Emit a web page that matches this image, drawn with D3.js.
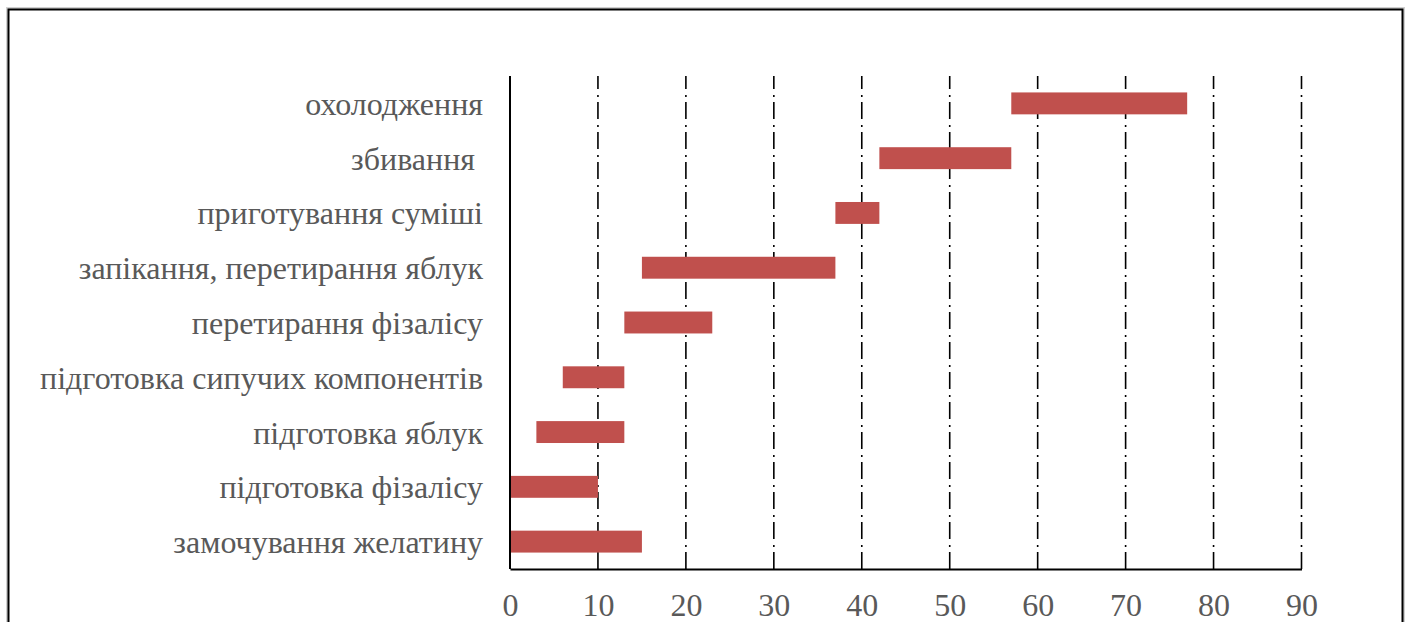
<!DOCTYPE html>
<html>
<head>
<meta charset="utf-8">
<script src="https://cdn.jsdelivr.net/npm/d3@7"></script>
<style>
  html, body { margin: 0; padding: 0; background: #fff; }
  svg { display: block; }
</style>
</head>
<body>
<svg id="chart" width="1411" height="622"></svg>
<script>
// Technological stages, listed bottom-to-top as they appear on the axis
const stages = [
  "замочування желатину",
  "підготовка фізалісу",
  "підготовка яблук",
  "підготовка сипучих компонентів",
  "перетирання фізалісу",
  "запікання, перетирання яблук",
  "приготування суміші",
  "збивання ",
  "охолодження"
];
// Start time of each stage, min
const startTimes = [0, 0, 3, 6, 13, 15, 37, 42, 57];
// Duration of each stage, min
const durations = [15, 10, 10, 7, 10, 22, 5, 15, 20];
// Time axis ticks, min
const timeTicks = [0, 10, 20, 30, 40, 50, 60, 70, 80, 90];

const rows = stages.map((name, i) => ({ name, start: startTimes[i], dur: durations[i] }));

const svg = d3.select("#chart");
const margin = { left: 510, top: 76, right: 1301.5, bottom: 569 };
const serif = "'Liberation Serif', 'Times New Roman', serif";

// outer frame
svg.append("rect")
  .attr("x", 7.5).attr("y", 8.5).attr("width", 1396).attr("height", 700)
  .attr("fill", "none").attr("stroke", "#d0d0d0").attr("stroke-width", 3);
svg.append("rect")
  .attr("x", 8.5).attr("y", 9.5).attr("width", 1394).attr("height", 700)
  .attr("fill", "none").attr("stroke", "#000").attr("stroke-width", 2);

const x = d3.scaleLinear().domain([0, 90]).range([margin.left, margin.right]);
const y = d3.scaleBand()
  .domain(stages.slice().reverse())
  .range([margin.top, margin.bottom])
  .paddingInner(0.6).paddingOuter(0.3);

// dash-dot vertical gridlines
svg.append("g")
  .selectAll("line")
  .data(timeTicks.filter(t => t > 0))
  .join("line")
  .attr("x1", d => x(d)).attr("x2", d => x(d))
  .attr("y1", margin.bottom).attr("y2", margin.top)
  .attr("stroke", "#000").attr("stroke-width", 1.6)
  .attr("stroke-dasharray", "17,5,2,6");

// bars
svg.append("g")
  .selectAll("rect")
  .data(rows)
  .join("rect")
  .attr("x", d => x(d.start))
  .attr("y", d => y(d.name))
  .attr("width", d => x(d.start + d.dur) - x(d.start))
  .attr("height", y.bandwidth())
  .attr("fill", "#C0504D");

// y axis line and category labels
svg.append("line")
  .attr("x1", margin.left).attr("x2", margin.left)
  .attr("y1", margin.top).attr("y2", margin.bottom)
  .attr("stroke", "#000").attr("stroke-width", 2);

svg.append("g")
  .selectAll("text")
  .data(stages)
  .join("text")
  .attr("x", margin.left - 27)
  .attr("y", d => y(d) + y.bandwidth() / 2)
  .attr("dy", "0.36em")
  .attr("text-anchor", "end")
  .attr("font-family", serif)
  .attr("font-size", 32)
  .attr("fill", "#595959")
  .style("white-space", "pre")
  .text(d => d);

// x axis
const xAxis = d3.axisBottom(x).tickValues(timeTicks).tickSize(0).tickPadding(0).tickFormat(d3.format("d"));
const gx = svg.append("g")
  .attr("transform", `translate(0,${margin.bottom})`)
  .call(xAxis);
gx.select(".domain").attr("stroke", "#000").attr("stroke-width", 2.2);
gx.selectAll(".tick text")
  .attr("y", 47)
  .attr("dy", 0)
  .attr("font-family", serif)
  .attr("font-size", 32)
  .attr("fill", "#595959");
</script>
</body>
</html>
